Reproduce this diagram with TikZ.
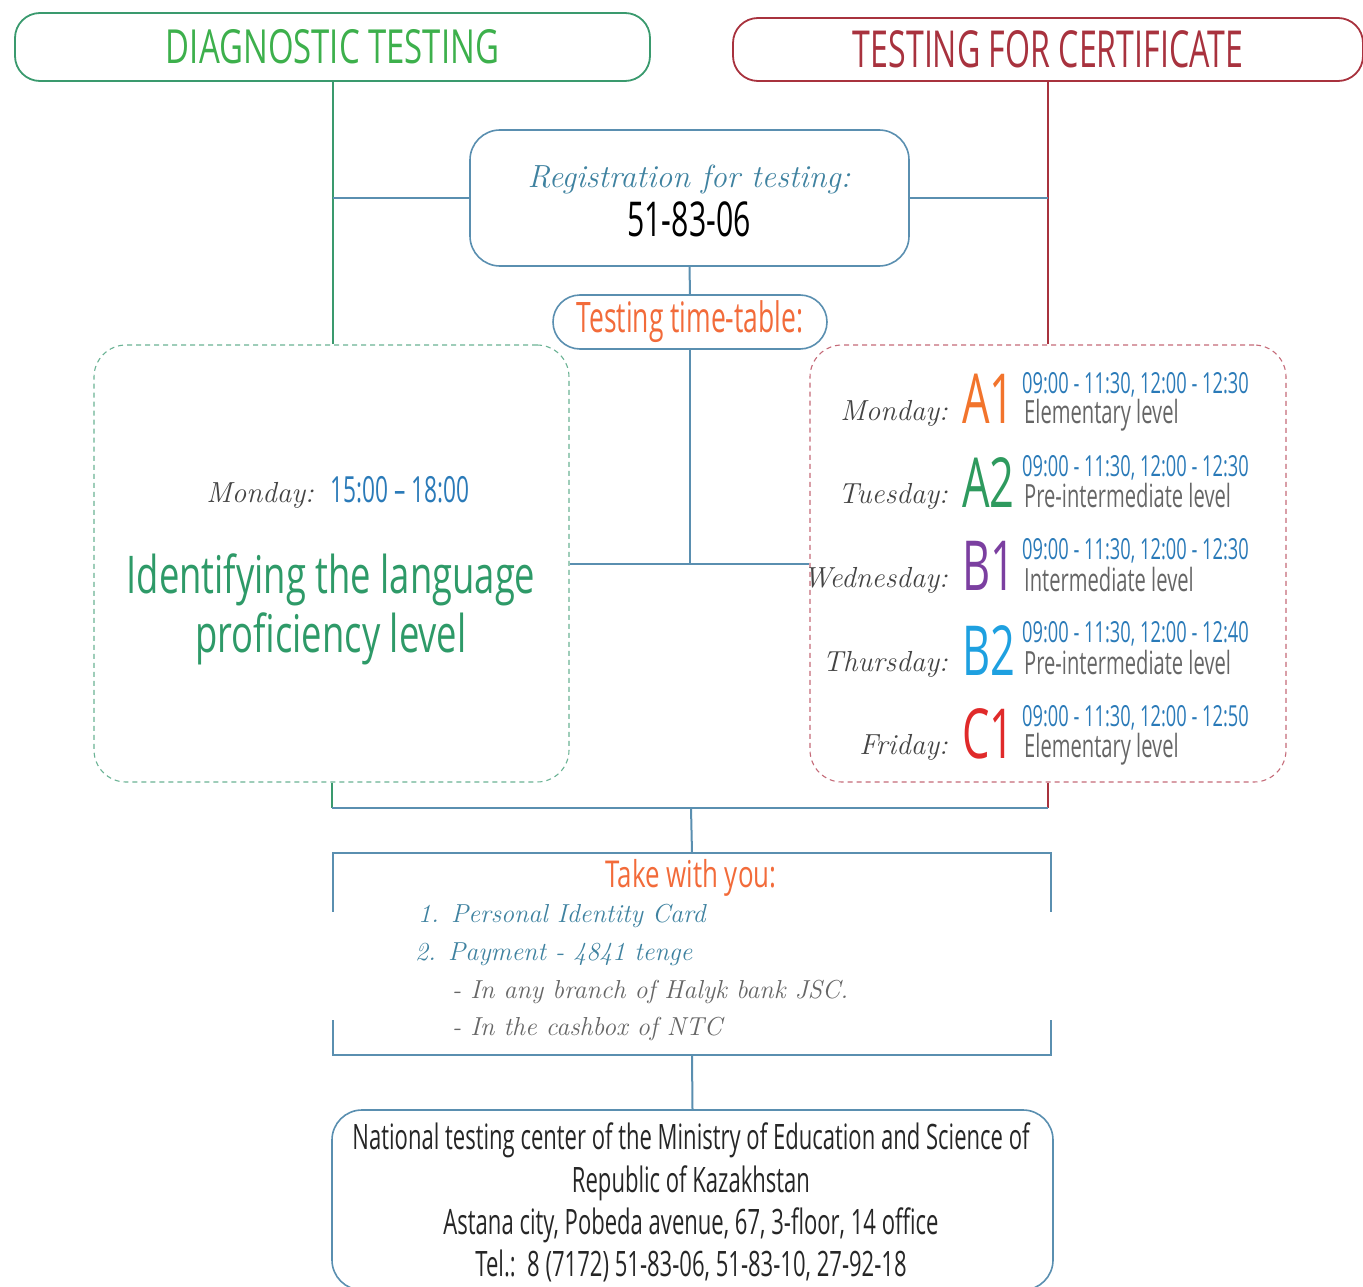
\documentclass[tikz,border=0pt]{standalone}
\usepackage{fontspec}
\newfontfamily\cond[FakeStretch=0.63]{Open Sans}
\newfontfamily\condw[FakeStretch=0.7]{Open Sans}
\usetikzlibrary{positioning}
\definecolor{diaggreen}{HTML}{3A9A6E}
\definecolor{titlegreen}{HTML}{3DB04C}
\definecolor{idgreen}{HTML}{2E9A68}
\definecolor{dashgreen}{HTML}{6AB294}
\definecolor{certred}{HTML}{A8323E}
\definecolor{dashred}{HTML}{C46A78}
\definecolor{linkblue}{HTML}{5A8FB0}
\definecolor{scriptblue}{HTML}{3F82A0}
\definecolor{timeblue}{HTML}{2A7AB8}
\definecolor{orangetxt}{HTML}{F26B3A}
\definecolor{daygrey}{HTML}{444444}
\definecolor{descgrey}{HTML}{666666}
\definecolor{lvlorange}{HTML}{F2742C}
\definecolor{lvlgreen}{HTML}{2E9A5E}
\definecolor{lvlpurple}{HTML}{7B3FA0}
\definecolor{lvlblue}{HTML}{1EA0E0}
\definecolor{lvlred}{HTML}{E02A2A}
\tikzstyle{Title} = [draw, rounded corners=25pt, line width=1.8pt, inner sep=0pt]
\tikzstyle{Block} = [draw=linkblue, rounded corners=30pt, line width=1.6pt, inner sep=0pt]
\tikzstyle{DashBox} = [draw, dashed, dash pattern=on 5pt off 4pt, rounded corners=32pt, line width=1.1pt, inner sep=0pt]
\tikzstyle{Link} = [draw=linkblue, line width=2pt]
\tikzstyle{Day} = [text=daygrey, inner sep=0pt, font=\itshape\fontsize{29}{29}\selectfont]
\tikzstyle{Level} = [inner sep=0pt, font=\cond\fontsize{69}{69}\selectfont]
\tikzstyle{Time} = [text=timeblue, inner sep=0pt, text depth=0pt, font=\cond\fontsize{29}{29}\selectfont]
\tikzstyle{Desc} = [text=descgrey, inner sep=0pt, text height=21pt, font=\cond\fontsize{32}{32}\selectfont]
\tikzstyle{Item} = [inner sep=0pt, font=\itshape\fontsize{26}{26}\selectfont]
\tikzstyle{Address} = [text=black!85, inner sep=0pt, font=\cond\fontsize{35}{35}\selectfont]

\begin{document}
\begin{tikzpicture}[x=1pt, y=-1pt]
    \useasboundingbox (0,0) rectangle (1363,1287);
    % headers
    \node[Title, draw=diaggreen, text=titlegreen, minimum width=635pt, minimum height=68pt] (diag) at (332.5,47) {\condw\fontsize{47}{47}\selectfont DIAGNOSTIC TESTING};
    \node[Title, draw=certred, text=certred, minimum width=630pt, minimum height=63pt] (cert) at (1048,49.5) {\cond\fontsize{51}{51}\selectfont TESTING FOR CERTIFICATE};

    % registration
    \node[Block, minimum width=439pt, minimum height=136pt] (reg) at (689.5,198) {};
    \node[anchor=base, text=scriptblue, inner sep=0pt] (reg-title) at (689,187) {\itshape\fontsize{32}{32}\selectfont Registration for testing:};
    \node[anchor=base, inner sep=0pt] (reg-phone) at (689,236) {\cond\fontsize{48}{48}\selectfont 51-83-06};
    \node[Block, rounded corners=27pt, minimum width=274pt, minimum height=54pt, text=orangetxt] (timetable) at (690,322) {\cond\fontsize{42}{42}\selectfont Testing time-table:};

    % dashed boxes
    \node[DashBox, draw=dashgreen, minimum width=475pt, minimum height=437pt] (diagbox) at (331.5,563.5) {};
    \node[DashBox, draw=dashred, minimum width=476pt, minimum height=437pt] (certbox) at (1048,563.5) {};

    % diagnostic content
    \node[Day, anchor=base east] (diag-day) at (314,502) {Monday:};
    \node[Time, anchor=base west, font=\cond\fontsize{36}{36}\selectfont] (diag-time) at (330,502) {15:00 \textendash{} 18:00};
    \node[anchor=base, text=idgreen, inner sep=0pt] (diag-aim1) at (331,593) {\condw\fontsize{52}{52}\selectfont Identifying the language};
    \node[anchor=base, text=idgreen, inner sep=0pt] (diag-aim2) at (331,652) {\condw\fontsize{52}{52}\selectfont proficiency level};

    % certificate time-table
    \node[Day, anchor=base east] (mon-day) at (948,420) {Monday:};
    \node[Level, anchor=base west, text=lvlorange] (mon-lvl) at (962,423) {A1};
    \node[Time, anchor=base west] (mon-time) at (1022,393) {09:00 - 11:30, 12:00 - 12:30};
    \node[Desc, anchor=base west] (mon-desc) at (1024,423) {Elementary level};

    \node[Day, anchor=base east] (tue-day) at (948,503) {Tuesday:};
    \node[Level, anchor=base west, text=lvlgreen] (tue-lvl) at (962,507) {A2};
    \node[Time, anchor=base west] (tue-time) at (1022,476) {09:00 - 11:30, 12:00 - 12:30};
    \node[Desc, anchor=base west] (tue-desc) at (1024,507) {Pre-intermediate level};

    \node[Day, anchor=base east] (wed-day) at (948,587) {Wednesday:};
    \node[Level, anchor=base west, text=lvlpurple] (wed-lvl) at (962,590) {B1};
    \node[Time, anchor=base west] (wed-time) at (1022,559) {09:00 - 11:30, 12:00 - 12:30};
    \node[Desc, anchor=base west] (wed-desc) at (1024,591) {Intermediate level};

    \node[Day, anchor=base east] (thu-day) at (948,671) {Thursday:};
    \node[Level, anchor=base west, text=lvlblue] (thu-lvl) at (962,675) {B2};
    \node[Time, anchor=base west] (thu-time) at (1022,642) {09:00 - 11:30, 12:00 - 12:40};
    \node[Desc, anchor=base west] (thu-desc) at (1024,674) {Pre-intermediate level};

    \node[Day, anchor=base east] (fri-day) at (948,754) {Friday:};
    \node[Level, anchor=base west, text=lvlred] (fri-lvl) at (962,758) {C1};
    \node[Time, anchor=base west] (fri-time) at (1022,726) {09:00 - 11:30, 12:00 - 12:50};
    \node[Desc, anchor=base west] (fri-desc) at (1024,757) {Elementary level};

    % take with you
    \node[minimum width=718pt, minimum height=202pt, inner sep=0pt] (take) at (692,954) {};
    \node[anchor=base, text=orangetxt, inner sep=0pt] (take-title) at (691,887) {\condw\fontsize{37}{37}\selectfont Take with you:};
    \node[Item, anchor=base west, text=scriptblue] (take-id) at (418,922) {1. Personal Identity Card};
    \node[Item, anchor=base west, text=scriptblue] (take-pay) at (415,960) {2. Payment - 4841 tenge};
    \node[Item, anchor=base west, text=descgrey] (take-bank) at (452,998) {- In any branch of Halyk bank JSC.};
    \node[Item, anchor=base west, text=descgrey] (take-cash) at (452,1035) {- In the cashbox of NTC};

    % address
    \node[Block, minimum width=721pt, minimum height=180pt] (ntc) at (692.5,1200) {};
    \node[Address, anchor=base] (ntc-1) at (691,1149) {National testing center of the Ministry of Education and Science of};
    \node[Address, anchor=base] (ntc-2) at (691,1192) {Republic of Kazakhstan};
    \node[Address, anchor=base] (ntc-3) at (691,1234) {Astana city, Pobeda avenue, 67, 3-floor, 14 office};
    \node[Address, anchor=base] (ntc-4) at (691,1276) {Tel.:\ \ 8 (7172) 51-83-06, 51-83-10, 27-92-18};

    % connectors
    \coordinate (join) at (691,808);
    \draw[diaggreen, line width=2pt] (diag.south) -- (diag.south |- diagbox.north);
    \draw[certred, line width=2pt] (cert.south) -- (cert.south |- certbox.north);
    \draw[Link] (reg.west) -- (reg.west -| diag.south);
    \draw[Link] (reg.east) -- (reg.east -| cert.south);
    \draw[Link] (reg.south) -- (timetable.north);
    \draw[Link] (diagbox.east) -- (certbox.west);
    \draw[Link] (timetable.south) -- (timetable.south |- diagbox.east);
    \draw[diaggreen, line width=2pt] (diagbox.south) -- (diagbox.south |- join);
    \draw[certred, line width=2pt] (certbox.south) -- (certbox.south |- join);
    \draw[Link] (diagbox.south |- join) -- (certbox.south |- join);
    \draw[Link] (join) -- (take.north);
    \draw[Link] ([yshift=-59pt]take.north west) -- (take.north west) -- (take.north east) -- ([yshift=-59pt]take.north east);
    \draw[Link] ([yshift=35pt]take.south west) -- (take.south west) -- (take.south east) -- ([yshift=35pt]take.south east);
    \draw[Link] (take.south) -- (ntc.north);
\end{tikzpicture}
\end{document}
